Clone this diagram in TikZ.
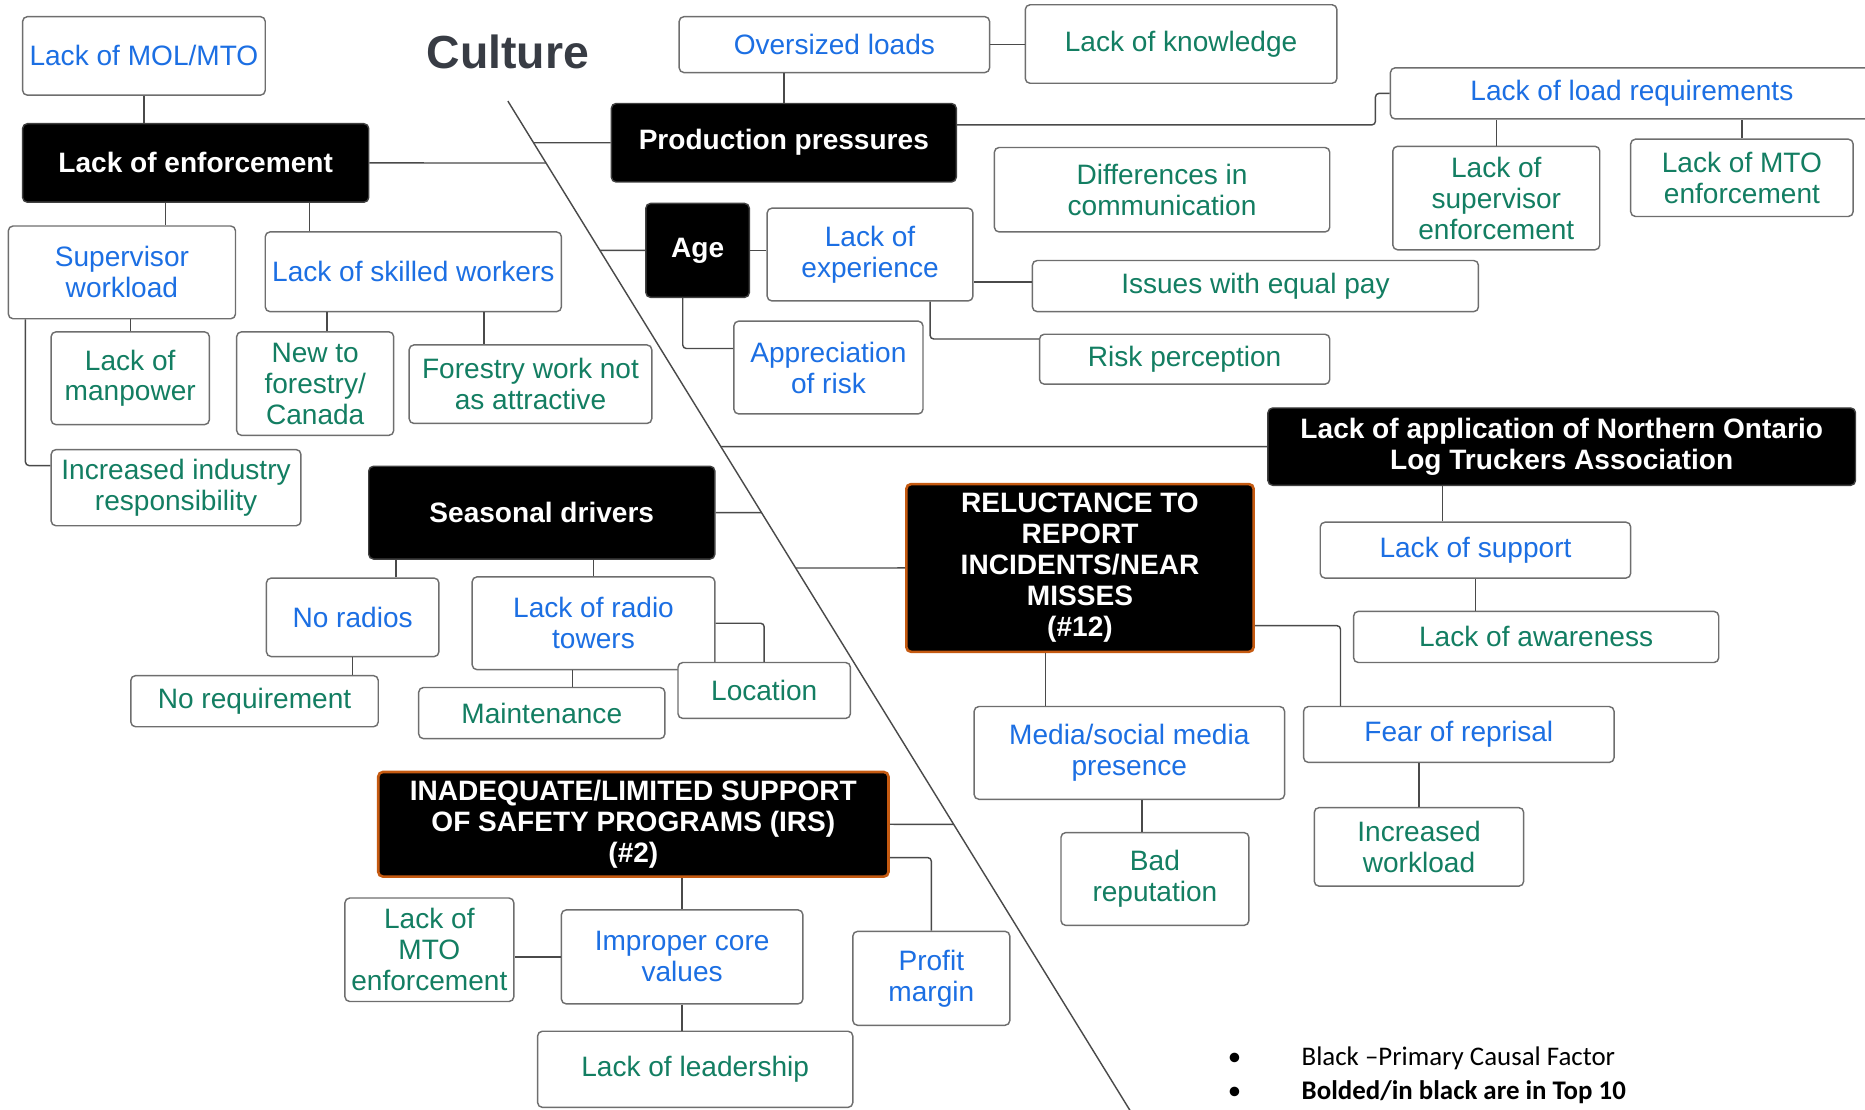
\documentclass[tikz,border=0pt]{standalone}
\usepackage{fontspec}
\setmainfont{Liberation Sans}
\newfontfamily\legendfont{Carlito}
\usepackage{tikz}
\definecolor{CauseBlue}{HTML}{1C6FE3}
\definecolor{CauseGreen}{HTML}{137E62}
\definecolor{FrameGray}{HTML}{6E6E6E}
\definecolor{LinkGray}{HTML}{4A4A4A}
\definecolor{TopOrange}{HTML}{C55A11}
\definecolor{TitleGray}{HTML}{383C44}
\newcommand{\causefont}{\fontsize{11.8}{13}\selectfont}
\tikzset{
  box/.style={rectangle, rounded corners=2pt, draw=FrameGray, fill=white,
    line width=0.6pt, align=center, inner sep=2pt, font=\causefont},
  bluebox/.style={box, text=CauseBlue},
  greenbox/.style={box, text=CauseGreen},
  primary/.style={box, fill=black, draw=black!75, text=white,
    font=\causefont\bfseries},
  topten/.style={primary, draw=TopOrange, line width=1.1pt},
  heading/.style={font=\fontsize{19.5}{22}\selectfont\bfseries,
    text=TitleGray, inner sep=0pt},
  legendtext/.style={font=\legendfont\fontsize{11.3}{13}\selectfont,
    inner sep=0pt, anchor=base west},
  link/.style={draw=LinkGray, line width=0.6pt, rounded corners=1.5pt},
  spine/.style={draw=LinkGray, line width=0.6pt}
}

\begin{document}
\begin{tikzpicture}[x=0.5pt, y=-0.5pt]

\useasboundingbox (0,0) rectangle (1568,933);

% fishbone spine
\coordinate (spineTop) at (427,85);
\coordinate (spineBot) at (954,940);
\draw[spine] (spineTop) -- (spineBot);

\node[heading] (culture) at (427,44) {Culture};

% upper left branch
\node[bluebox, minimum width=102pt, minimum height=33pt] (mol) at (121,47) {Lack of MOL/MTO};
\node[primary, minimum width=145.5pt, minimum height=33pt] (enf) at (164.5,137) {Lack of enforcement};
\node[bluebox, minimum width=95.5pt, minimum height=39pt] (superv) at (102.5,229) {Supervisor\\workload};
\node[bluebox, minimum width=124.5pt, minimum height=33.5pt] (skilled) at (347.5,228.5) {Lack of skilled workers};
\node[greenbox, minimum width=66.5pt, minimum height=39pt] (manpow) at (109.5,318) {Lack of\\manpower};
\node[greenbox, minimum width=66pt, minimum height=43.5pt] (newfor) at (265,322.5) {New to\\forestry/\\Canada};
\node[greenbox, minimum width=102pt, minimum height=33pt] (attract) at (446,323) {Forestry work not\\as attractive};
\node[greenbox, minimum width=105pt, minimum height=32pt] (industry) at (148,410) {Increased industry\\responsibility};

% upper right branch
\node[bluebox, minimum width=130.5pt, minimum height=23.5pt] (oversz) at (701.5,37.5) {Oversized loads};
\node[greenbox, minimum width=131pt, minimum height=33pt] (knowl) at (993,37) {Lack of knowledge};
\node[primary, minimum width=145pt, minimum height=33pt] (prod) at (659,120) {Production pressures};
\node[bluebox, minimum width=203pt, minimum height=21.5pt] (loadreq) at (1372,78.5) {Lack of load requirements};
\node[greenbox, minimum width=87pt, minimum height=43.5pt] (supenf) at (1258,166.5) {Lack of\\supervisor\\enforcement};
\node[greenbox, minimum width=93.5pt, minimum height=32.5pt] (mtoenf) at (1464.5,149.5) {Lack of MTO\\enforcement};
\node[greenbox, minimum width=141pt, minimum height=35.5pt] (diffcom) at (977,159.5) {Differences in\\communication};
\node[primary, minimum width=43.5pt, minimum height=39.5pt] (age) at (586.5,210.5) {Age};
\node[bluebox, minimum width=86.5pt, minimum height=39pt] (exper) at (731.5,214) {Lack of\\experience};
\node[bluebox, minimum width=79.5pt, minimum height=39pt] (apprec) at (696.5,309) {Appreciation\\of risk};
\node[greenbox, minimum width=187.5pt, minimum height=21.5pt] (equalpay) at (1055.5,240.5) {Issues with equal pay};
\node[greenbox, minimum width=122pt, minimum height=21pt] (riskper) at (996,302) {Risk perception};

% lower right branch
\node[primary, minimum width=247pt, minimum height=32.5pt] (nolta) at (1313,375.5) {Lack of application of Northern Ontario\\Log Truckers Association};
\node[bluebox, minimum width=130.5pt, minimum height=23.5pt] (support) at (1240.5,462.5) {Lack of support};
\node[greenbox, minimum width=153.5pt, minimum height=21.5pt] (aware) at (1291.5,535.5) {Lack of awareness};
\node[topten, minimum width=146pt, minimum height=70.5pt] (reluct) at (908,477.5) {RELUCTANCE TO\\REPORT\\INCIDENTS/NEAR\\MISSES\\(\#12)};
\node[bluebox, minimum width=130.5pt, minimum height=23.5pt] (reprisal) at (1226.5,617.5) {Fear of reprisal};
\node[greenbox, minimum width=88pt, minimum height=33pt] (workload) at (1193,712) {Increased\\workload};
\node[bluebox, minimum width=130.5pt, minimum height=39pt] (media) at (949.5,633) {Media/social media\\presence};
\node[greenbox, minimum width=79pt, minimum height=39pt] (badrep) at (971,739) {Bad\\reputation};

% lower left branch
\node[primary, minimum width=145.5pt, minimum height=39pt] (seasonal) at (455.5,431) {Seasonal drivers};
\node[bluebox, minimum width=72.5pt, minimum height=33pt] (radios) at (296.5,519) {No radios};
\node[greenbox, minimum width=104pt, minimum height=21.5pt] (noreq) at (214,589.5) {No requirement};
\node[bluebox, minimum width=102pt, minimum height=39pt] (towers) at (499,524) {Lack of radio\\towers};
\node[greenbox, minimum width=103.5pt, minimum height=21.5pt] (maint) at (455.5,599.5) {Maintenance};
\node[greenbox, minimum width=72.5pt, minimum height=23.5pt] (location) at (642.5,580.5) {Location};
\node[topten, minimum width=214.5pt, minimum height=44pt] (inadeq) at (532.5,693) {INADEQUATE/LIMITED SUPPORT\\OF SAFETY PROGRAMS (IRS)\\(\#2)};
\node[bluebox, minimum width=66pt, minimum height=39.5pt] (profit) at (783,822.5) {Profit\\margin};
\node[bluebox, minimum width=101.5pt, minimum height=39.5pt] (improper) at (573.5,804.5) {Improper core\\values};
\node[greenbox, minimum width=71pt, minimum height=43.5pt] (mtoleft) at (361,798.5) {Lack of\\MTO\\enforcement};
\node[greenbox, minimum width=132.5pt, minimum height=32pt] (leader) at (584.5,899) {Lack of leadership};

% legend
\node[legendtext] (keyblack) at (1032,896) {\makebox[31pt][l]{•}Black –Primary Causal Factor};
\node[legendtext] (keybold) at (1032,924) {\makebox[31pt][l]{•}\bfseries Bolded/in black are in Top 10};

% connectors
\draw[link] (mol.south) -- (mol.south |- enf.north);
\draw[link] ([xshift=-12.75pt]enf.south) -- ([xshift=-12.75pt]enf.south |- superv.north);
\draw[link] ([xshift=47.75pt]enf.south) -- ([xshift=47.75pt]enf.south |- skilled.north);
\draw[link] (manpow.north) -- (manpow.north |- superv.south);
\draw[link] ([xshift=-36.25pt]skilled.south) -- ([xshift=-36.25pt]skilled.south |- newfor.north);
\draw[link] ([xshift=29.75pt]skilled.south) -- ([xshift=29.75pt]skilled.south |- attract.north);
\draw[link] ([xshift=7.5pt]superv.south west) |- ([yshift=-7pt]industry.north west);
\draw[link] (enf.east) -- (intersection of enf.west--enf.east and spineTop--spineBot);

\draw[link] (oversz.east) -- (oversz.east -| knowl.west);
\draw[link] (prod.north) -- (prod.north |- oversz.south);
\draw[link] (prod.west) -- (intersection of prod.west--prod.east and spineTop--spineBot);
\draw[link] ([yshift=7.5pt]prod.east) -| ([xshift=-6pt]loadreq.west) -- (loadreq.west);
\draw[link] (supenf.north) -- (supenf.north |- loadreq.south);
\draw[link] (mtoenf.north) -- (mtoenf.north |- loadreq.south);
\draw[link] (age.west) -- (intersection of age.west--age.east and spineTop--spineBot);
\draw[link] (age.east) -- (age.east -| exper.west);
\draw[link] ([xshift=-6.25pt]age.south) |- ([yshift=8pt]apprec.west);
\draw[link] ([yshift=1.75pt]equalpay.west) -- ([yshift=1.75pt]equalpay.west -| exper.east);
\draw[link] ([xshift=25.25pt]exper.south) |- ([yshift=8.5pt]riskper.west);

\draw[link] (nolta.west) -- (intersection of nolta.west--nolta.east and spineTop--spineBot);
\draw[link] ([xshift=-13.75pt]support.north) -- ([xshift=-13.75pt]support.north |- nolta.south);
\draw[link] (support.south) -- (support.south |- aware.north);
\draw[link] (reluct.west) -- (intersection of reluct.west--reluct.east and spineTop--spineBot);
\draw[link] ([yshift=-24.25pt]reluct.east) -| ([xshift=-49.75pt]reprisal.north);
\draw[link] (workload.north) -- (workload.north |- reprisal.south);
\draw[link] ([xshift=-35.25pt]media.north) -- ([xshift=-35.25pt]media.north |- reluct.south);
\draw[link] ([xshift=-5.5pt]badrep.north) -- ([xshift=-5.5pt]badrep.north |- media.south);

\draw[link] (seasonal.east) -- (intersection of seasonal.west--seasonal.east and spineTop--spineBot);
\draw[link] ([xshift=18.25pt]radios.north) -- ([xshift=18.25pt]radios.north |- seasonal.south);
\draw[link] (radios.south) -- (radios.south |- noreq.north);
\draw[link] (towers.north) -- (towers.north |- seasonal.south);
\draw[link] ([xshift=-8.75pt]towers.south) -- ([xshift=-8.75pt]towers.south |- maint.north);
\draw[link] (towers.east) -| (location.north);

\draw[link] (inadeq.east) -- (intersection of inadeq.west--inadeq.east and spineTop--spineBot);
\draw[link] ([yshift=-14pt]inadeq.east) -| (profit.north);
\draw[link] (improper.north) -- (improper.north |- inadeq.south);
\draw[link] (improper.west) -- (improper.west -| mtoleft.east);
\draw[link] (improper.south) -- (improper.south |- leader.north);

\end{tikzpicture}
\end{document}
